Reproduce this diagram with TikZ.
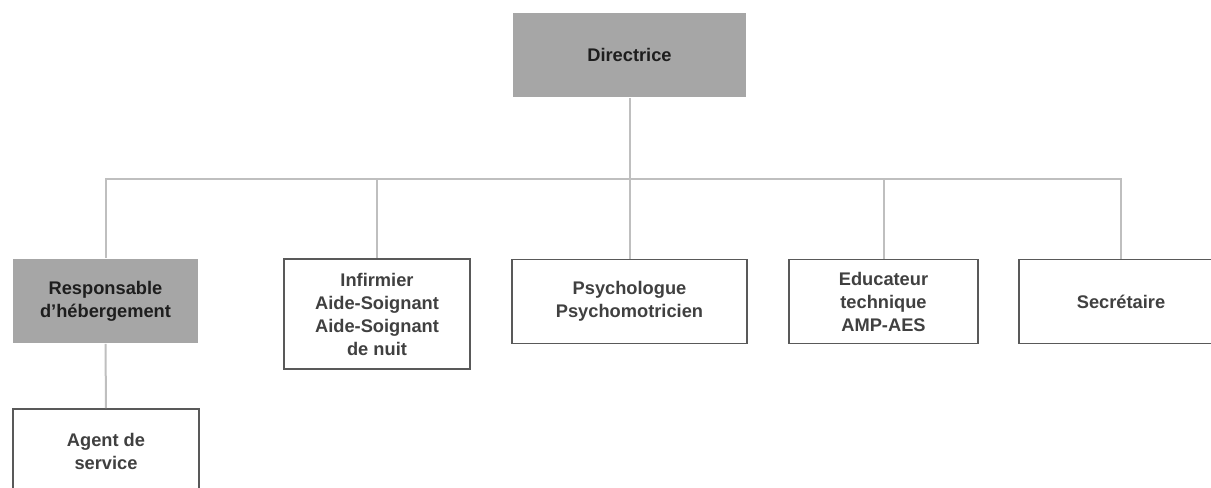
\documentclass[tikz,border=0pt]{standalone}
\usepackage{fontspec}
\setmainfont{Liberation Sans}
\usetikzlibrary{positioning}
\definecolor{boxgray}{HTML}{A6A6A6}
\definecolor{framegray}{HTML}{595959}
\definecolor{linkgray}{HTML}{BFBFBF}
\definecolor{txtgray}{HTML}{404040}
\definecolor{txtdark}{HTML}{1E1E1E}

\tikzset{
  unit/.style={rectangle, draw=framegray, line width=1.2pt, fill=white, text=txtgray,
    font=\fontsize{13.7}{17.25}\selectfont\bfseries, align=center, inner sep=0pt,
    minimum height=63pt},
  head/.style={unit, draw=none, fill=boxgray, text=txtdark},
  link/.style={draw=linkgray, line width=1.5pt},
}

\begin{document}
\begin{tikzpicture}[x=0.75pt,y=-0.75pt]
    \useasboundingbox (0,0) rectangle (1211,488);
    \clip (0,0) rectangle (1211,488);
    % top and the row below it
    \coordinate (bus) at (0,179);
    \node[head, minimum width=174.75pt] (dir) at (629.5,55) {Directrice};
    \node[head, minimum width=138.75pt] (resp) at (105.5,301) {Responsable\\d’hébergement};
    \node[unit, minimum width=139.5pt, minimum height=82.5pt] (inf) at (377,314)
        {Infirmier\\Aide-Soignant\\Aide-Soignant\\de nuit};
    \node[unit, minimum width=176.25pt] (psy) at (629.5,301.5) {Psychologue\\Psychomotricien};
    \node[unit, minimum width=141.75pt] (edu) at (883.5,301.5) {Educateur\\technique\\AMP-AES};
    \node[unit, minimum width=153pt] (sec) at (1121,301.5) {Secrétaire};
    \node[unit, minimum width=139.5pt] (agent) at (106,451) {Agent de\\service};
    % connectors
    \draw[link] (dir.south) -- (dir.south |- bus);
    \draw[link] (resp.north) -- (resp.north |- bus) -- (sec.north |- bus) -- (sec.north);
    \foreach \n in {inf,psy,edu}
        \draw[link] (\n.north) -- (\n.north |- bus);
    \draw[link] (resp.south) -- (agent.north);
\end{tikzpicture}
\end{document}
